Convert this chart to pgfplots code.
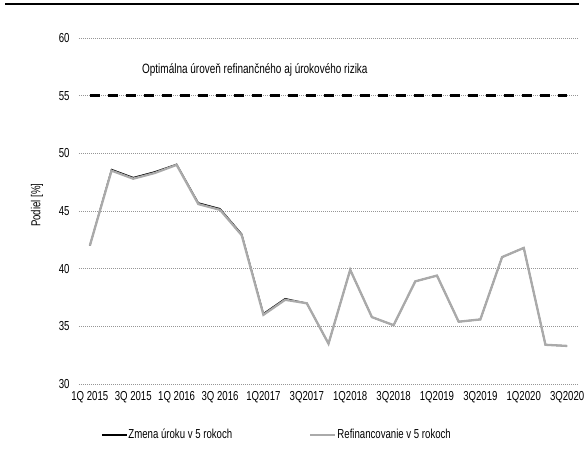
\documentclass[border=0pt]{standalone}
\usepackage{fontspec}
\setmainfont{Liberation Sans}[FakeStretch=0.74]
\usepackage{pgfplots}
\pgfplotsset{compat=1.18}
\definecolor{lgray}{RGB}{170,170,170}
\definecolor{ggrid}{RGB}{150,150,150}
\begin{document}
\begin{tikzpicture}
\path[use as bounding box] (0pt,0pt) rectangle (584pt,455pt);
\draw[line width=2pt] (5pt,451.3pt) -- (579pt,451.3pt);
\begin{axis}[
  at={(79pt,71pt)}, anchor=south west,
  width=499pt, height=346pt, scale only axis,
  xmin=-0.5, xmax=22.5, ymin=30, ymax=60,
  ytick={30,35,...,60},
  xtick={0,2,...,22},
  xticklabels={1Q 2015,3Q 2015,1Q 2016,3Q 2016,1Q2017,3Q2017,1Q2018,3Q2018,1Q2019,3Q2019,1Q2020,3Q2020},
  major tick length=0pt,
  axis line style={draw=none},
  ymajorgrids,
  grid style={ggrid, dash pattern=on 1pt off 1pt, line width=0.5pt},
  /pgf/number format/assume math mode=true,
  tick label style={font=\fontsize{13}{15}\selectfont},
  yticklabel style={xshift=-6pt},
  xticklabel style={yshift=-4pt},
  ylabel={Podiel [\%]},
  ylabel style={font=\fontsize{13}{15}\selectfont, at={(axis description cs:-0.084,0.517)}, anchor=center},
  legend columns=2,
  legend style={at={(axis description cs:0.038,-0.147)}, anchor=west, draw=none, fill=none,
    font=\fontsize{13}{15}\selectfont,
    /tikz/every even column/.append style={column sep=76pt},
    nodes={inner sep=1pt}},
  legend image code/.code={\draw[#1] (0pt,0pt) -- (25pt,0pt);},
  clip=false,
]
\addplot[black, forget plot, dash pattern=on 10pt off 8pt, line width=3pt] coordinates {(0,55) (22,55)};
\addplot[black, line width=1.3pt] coordinates {
(0,42.0) (1,48.6) (2,47.9) (3,48.4) (4,49.05) (5,45.7) (6,45.2) (7,43.0) (8,36.1) (9,37.4) (10,37.0) (11,33.5)
(12,39.9) (13,35.8) (14,35.1) (15,38.9) (16,39.4) (17,35.4) (18,35.6) (19,41.0) (20,41.8) (21,33.4) (22,33.3)};
\addlegendentry{Zmena úroku v 5 rokoch}
\addplot[lgray, line width=2.3pt] coordinates {
(0,42.0) (1,48.5) (2,47.8) (3,48.3) (4,49.0) (5,45.6) (6,45.1) (7,42.9) (8,36.0) (9,37.3) (10,37.0) (11,33.5)
(12,39.9) (13,35.8) (14,35.1) (15,38.9) (16,39.4) (17,35.4) (18,35.6) (19,41.0) (20,41.8) (21,33.4) (22,33.3)};
\addlegendentry{Refinancovanie v 5 rokoch}
\node[anchor=west, font=\fontsize{13.5}{15}\selectfont, inner sep=0pt] at (axis cs:2.4,57.2) {Optimálna úroveň refinančného aj úrokového rizika};
\end{axis}
\end{tikzpicture}
\end{document}
